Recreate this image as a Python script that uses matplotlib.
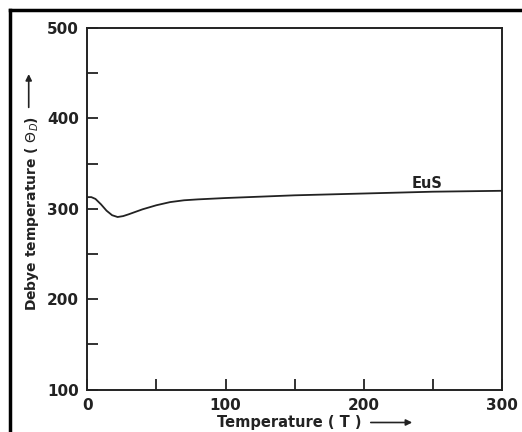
import matplotlib
matplotlib.use("Agg")
import matplotlib.pyplot as plt
from matplotlib.lines import Line2D

# EuS Debye temperature vs temperature
temp_T = [0, 3, 6, 10, 14, 18, 22, 26, 30, 40, 50, 60, 70, 80, 100, 125, 150, 175, 200, 225, 250, 275, 300]
theta_D = [313, 313, 311, 305, 298, 293, 291, 292, 294, 299.5, 304, 307.5, 309.5, 310.5, 312, 313.5, 315, 316, 317, 318, 319, 319.5, 320]

x_ticks = [0, 100, 200, 300]
x_minor = [50, 150, 250]
y_ticks = [100, 200, 300, 400, 500]
y_minor = [150, 250, 350, 450]

fig = plt.figure(figsize=(5.22, 4.32), dpi=100)
ax = fig.add_axes([0.167, 0.098, 0.795, 0.837])

ax.plot(temp_T, theta_D, color="#222222", linewidth=1.3)
ax.text(246, 323, "EuS", fontsize=10.5, fontweight="bold", color="#222222", ha="center")

ax.set_xlim(0, 300)
ax.set_ylim(100, 500)
ax.set_xticks(x_ticks)
ax.set_xticks(x_minor, minor=True)
ax.set_yticks(y_ticks)
ax.set_yticks(y_minor, minor=True)

ax.tick_params(which="both", direction="in", length=8, width=1.3, colors="#222222",
               labelsize=11, pad=6)
ax.tick_params(axis="y", which="both", pad=6)
for lab in ax.get_xticklabels() + ax.get_yticklabels():
    lab.set_fontweight("bold")
for spine in ax.spines.values():
    spine.set_linewidth(1.4)
    spine.set_color("#222222")

# axis titles with the arrows of the original
fig.text(0.555, 0.022, "Temperature ( T )", fontsize=10.5, fontweight="bold",
         color="#222222", ha="center", va="center")
ax.annotate("", xy=(0.795, 0.022), xytext=(0.705, 0.022), xycoords="figure fraction",
            arrowprops=dict(arrowstyle="-|>", color="#222222", lw=1.2, mutation_scale=9))
fig.text(0.062, 0.505, r"Debye temperature ( $\Theta_D$)", fontsize=10, fontweight="bold",
         color="#222222", ha="center", va="center", rotation=90)
ax.annotate("", xy=(0.055, 0.835), xytext=(0.055, 0.745), xycoords="figure fraction",
            arrowprops=dict(arrowstyle="-|>", color="#222222", lw=1.2, mutation_scale=9))

# scan frame on left and top edges
fig.add_artist(Line2D([0.02, 0.02], [0, 0.978], transform=fig.transFigure, color="black", lw=2.5))
fig.add_artist(Line2D([0.02, 1], [0.978, 0.978], transform=fig.transFigure, color="black", lw=2.5))

fig.savefig("out.png", dpi=100)
